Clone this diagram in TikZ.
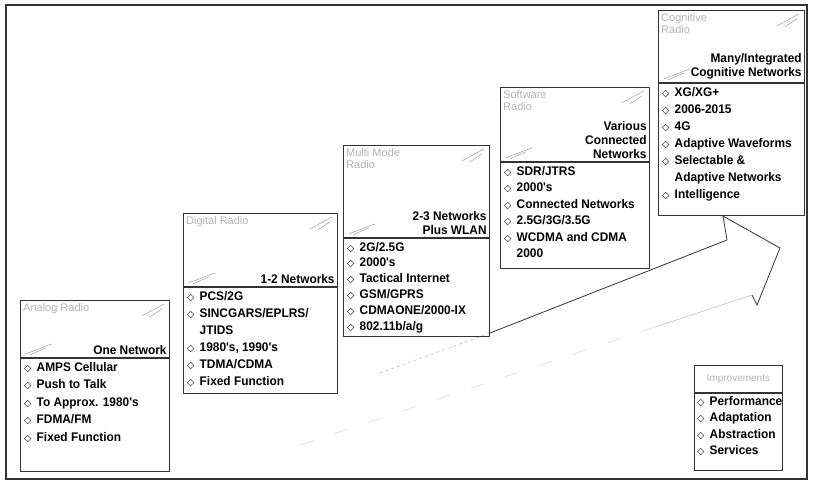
\documentclass[tikz,border=0pt]{standalone}
\usepackage{fontspec}
\setmainfont{Liberation Sans}
\newfontfamily\cond[FakeStretch=0.95]{Liberation Sans}
\newfontfamily\symfont{DejaVu Sans}
\usetikzlibrary{positioning}

\newcommand\dm{\makebox[12.5pt][l]{\fontsize{9.5}{9.5}\symfont\bfseries ◇}}
\newcommand\ind{\hspace*{12.5pt}}

\tikzset{
	box/.style={draw=black!80, line width=0.8pt, inner sep=0pt, anchor=north west},
	ttl/.style={anchor=north west, text=black!30, font=\fontsize{11}{12}\selectfont, align=left, inner sep=3pt},
	net/.style={anchor=south east, font=\cond\fontsize{12.5}{14}\selectfont\bfseries, align=right, inner sep=3pt},
	itm/.style={anchor=north west, font=\cond\fontsize{12.5}{#1}\selectfont\bfseries, align=left, inner sep=4pt},
	itm/.default=16.5,
	scr/.style={draw=black!45, line width=0.4pt},
}

\begin{document}
\begin{tikzpicture}[x=1pt, y=-1pt]
	\useasboundingbox (0,0) rectangle (814,485);
	\draw[line width=1.2pt, black!80] (6,5) rectangle (807,479);

	% the big arrow
	\coordinate (t1) at (380,373);
	\coordinate (t2) at (490,333);
	\coordinate (t3) at (727,240);
	\coordinate (h1) at (723,216);
	\coordinate (h2) at (780,248);
	\coordinate (h3) at (757,305);
	\coordinate (h4) at (752,295);
	\coordinate (b1) at (655,327);
	\coordinate (b2) at (300,445);
	\draw[black!35, dashed] (t1) -- (t2);
	\draw[black!80, line width=0.8pt] (t2) -- (t3) -- (h1) -- (h2) -- (h3) -- (h4);
	\draw[black!35] (h4) -- (b1);
	\draw[black!20, dash pattern=on 14pt off 22pt] (b1) -- (b2);

	% analog
	\node[box, minimum width=149pt, minimum height=57pt] (anahdr) at (20,300) {};
	\node[box, minimum width=149pt, minimum height=113pt] (analst) at (anahdr.south west) {};
	\node[ttl] (anattl) at (anahdr.north west) {Analog Radio};
	\node[net] (ananet) at (anahdr.south east) {One Network};
	\node[itm=17.5] (anaitm) at (analst.north west) {\dm AMPS Cellular\\ \dm Push to Talk\\ \dm To Approx. 1980's\\ \dm FDMA/FM\\ \dm Fixed Function};

	% digital
	\node[box, minimum width=154pt, minimum height=73pt] (dighdr) at (183,213) {};
	\node[box, minimum width=154pt, minimum height=106pt] (diglst) at (dighdr.south west) {};
	\node[ttl] (digttl) at (dighdr.north west) {Digital Radio};
	\node[net] (dignet) at (dighdr.south east) {1-2 Networks};
	\node[itm=17] (digitm) at (diglst.north west) {\dm PCS/2G\\ \dm SINCGARS/EPLRS/\\ \ind JTIDS\\ \dm 1980's, 1990's\\ \dm TDMA/CDMA\\ \dm Fixed Function};

	% multi mode
	\node[box, minimum width=146pt, minimum height=92pt] (mulhdr) at (343,145) {};
	\node[box, minimum width=146pt, minimum height=98pt] (mullst) at (mulhdr.south west) {};
	\node[ttl] (multtl) at (mulhdr.north west) {Multi Mode\\ Radio};
	\node[net] (mulnet) at (mulhdr.south east) {2-3 Networks\\ Plus WLAN};
	\node[itm=15.8] (mulitm) at (mullst.north west) {\dm 2G/2.5G\\ \dm 2000's\\ \dm Tactical Internet\\ \dm GSM/GPRS\\ \dm CDMAONE/2000-IX\\ \dm 802.11b/a/g};

	% software
	\node[box, minimum width=149pt, minimum height=74pt] (sofhdr) at (500,87) {};
	\node[box, minimum width=149pt, minimum height=106pt] (soflst) at (sofhdr.south west) {};
	\node[ttl] (softtl) at (sofhdr.north west) {Software\\ Radio};
	\node[net] (sofnet) at (sofhdr.south east) {Various\\ Connected\\ Networks};
	\node[itm=16.5] (sofitm) at (soflst.north west) {\dm SDR/JTRS\\ \dm 2000's\\ \dm Connected Networks\\ \dm 2.5G/3G/3.5G\\ \dm WCDMA and CDMA\\ \ind 2000};

	% cognitive
	\node[box, minimum width=146pt, minimum height=72pt] (coghdr) at (658,10) {};
	\node[box, minimum width=146pt, minimum height=132pt] (coglst) at (coghdr.south west) {};
	\node[ttl] (cogttl) at (coghdr.north west) {Cognitive\\ Radio};
	\node[net] (cognet) at (coghdr.south east) {Many/Integrated\\ Cognitive Networks};
	\node[itm=17] (cogitm) at (coglst.north west) {\dm XG/XG+\\ \dm 2006-2015\\ \dm 4G\\ \dm Adaptive Waveforms\\ \dm Selectable \&\\ \ind Adaptive Networks\\ \dm Intelligence};

	% legend
	\node[box, minimum width=88pt, minimum height=27pt] (imphdr) at (694,365) {};
	\node[box, minimum width=88pt, minimum height=77pt] (implst) at (imphdr.south west) {};
	\node[ttl, anchor=center, font=\fontsize{10}{11}\selectfont] (impttl) at (imphdr.center) {Improvements};
	\node[itm=16.5, inner sep=3pt] (impitm) at (implst.north west) {\dm Performance\\ \dm Adaptation\\ \dm Abstraction\\ \dm Services};

	% scribbles on the headers
	\foreach \b in {ana,dig,mul,sof,cog} {
		\draw[scr] ([shift={(-28,16)}]\b hdr.north east) -- ([shift={(-6,4)}]\b hdr.north east);
		\draw[scr] ([shift={(-20,17)}]\b hdr.north east) -- ([shift={(-8,9)}]\b hdr.north east);
		\draw[scr] ([shift={(6,-4)}]\b hdr.south west) -- ([shift={(32,-14)}]\b hdr.south west);
		\draw[scr] ([shift={(10,-3)}]\b hdr.south west) -- ([shift={(26,-10)}]\b hdr.south west);
	}
\end{tikzpicture}
\end{document}
